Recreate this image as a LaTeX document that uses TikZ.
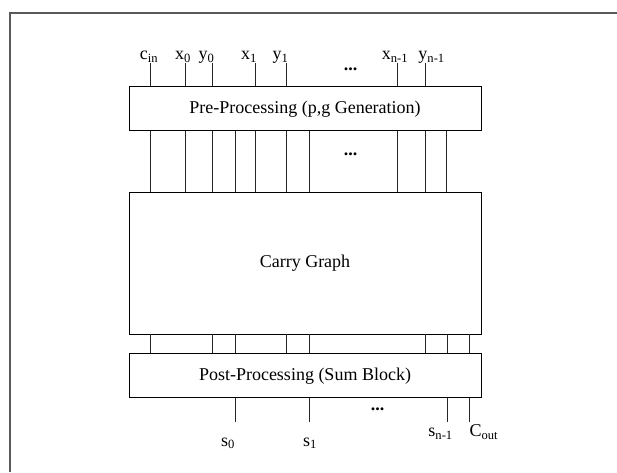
\documentclass[tikz,border=0pt]{standalone}
\usepackage{fontspec}
\setmainfont{Liberation Serif}
\tikzset{
	block/.style={draw, line width=0.7pt, minimum width=264pt, minimum height=33pt, inner sep=0pt},
	wire/.style={line width=0.6pt, black!85},
	pin/.style={anchor=base, inner sep=0pt},
}

\begin{document}
\begin{tikzpicture}[x=0.75pt, y=-0.75pt, font=\fontsize{13.5}{16}\selectfont]
		\useasboundingbox (0,0) rectangle (617,472);
		\draw[black!65, line width=1.2pt] (617,13) -- (10,13) -- (10,472);
		% blocks
		\node[block] (pre) at (305,108.7) {Pre-Processing (p,g Generation)};
		\node[block, minimum height=106.5pt] (carry) at (305,263) {Carry Graph};
		\node[block] (post) at (305,375.7) {Post-Processing (Sum Block)};
		% inputs
		\node[pin] (cin) at (149,59.5) {c\textsubscript{in}};
		\node[pin] (x0) at (183,59.5) {x\textsubscript{0}};
		\node[pin] (y0) at (206.7,59.5) {y\textsubscript{0}};
		\node[pin] (x1) at (249,59.5) {x\textsubscript{1}};
		\node[pin] (y1) at (280.7,59.5) {y\textsubscript{1}};
		\node[pin] (xn) at (395,59.5) {x\textsubscript{n-1}};
		\node[pin] (yn) at (431.7,59.5) {y\textsubscript{n-1}};
		\foreach \x/\n in {150.7/cin,185/x0,212.7/y0,255/x1,286.3/y1,397/xn,425.3/yn}{
			\coordinate (t\n) at (\x,63);
			\draw[wire] (t\n) -- (t\n |- pre.north);
		}
		\foreach \x in {150.7,185,212.7,235,255,286.3,309.7,397,425.3,446.7}
			\draw[wire] (\x,0 |- pre.south) -- (\x,0 |- carry.north);
		\foreach \x in {150.7,212.7,235,286.3,309.7,425.3,447,469}
			\draw[wire] (\x,0 |- carry.south) -- (\x,0 |- post.north);
		% outputs
		\foreach \x/\n in {235/s0,309.7/s1,447/sn,469/cout}{
			\coordinate (b\n) at (\x,421.7);
			\draw[wire] (b\n |- post.south) -- (b\n);
		}
		\node[pin] (s0) at (228,446) {s\textsubscript{0}};
		\node[pin] (s1) at (310,446) {s\textsubscript{1}};
		\node[pin] (sn) at (440.7,436.7) {s\textsubscript{n-1}};
		\node[pin] (cout) at (484,436.7) {C\textsubscript{out}};
		% dots
		\node[pin] (dtop) at (350.7,70.7) {\textbf{...}};
		\node[pin] (dmid) at (350.7,155) {\textbf{...}};
		\node[pin] (dbot) at (377.7,410.7) {\textbf{...}};
	\end{tikzpicture}
\end{document}
